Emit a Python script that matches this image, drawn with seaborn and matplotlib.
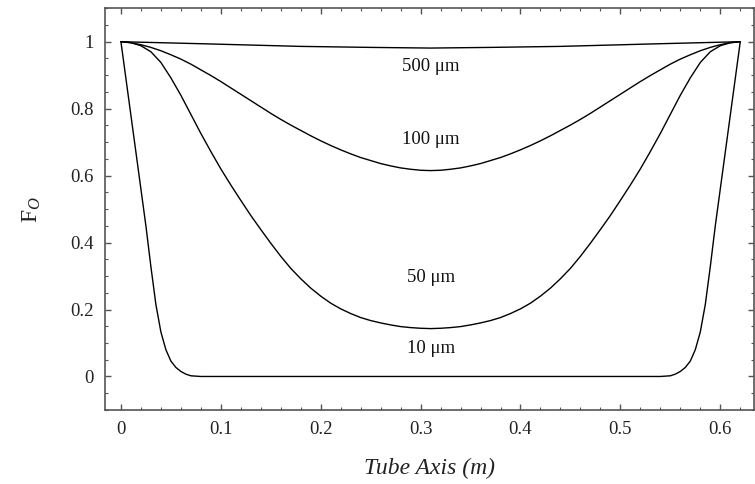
import matplotlib
matplotlib.use("Agg")
import matplotlib.pyplot as plt
import seaborn as sns
from matplotlib.ticker import MultipleLocator

# Data (oxygen fraction along tube axis)
x_10 = [0.000, 0.005, 0.010, 0.015, 0.020, 0.025, 0.030, 0.035, 0.040, 0.045,
        0.050, 0.055, 0.060, 0.065, 0.070, 0.080, 0.310, 0.540, 0.550, 0.555,
        0.560, 0.565, 0.570, 0.575, 0.580, 0.585, 0.590, 0.595, 0.600, 0.605,
        0.610, 0.615, 0.620]
y_10 = [1.000, 0.890, 0.780, 0.670, 0.560, 0.450, 0.328, 0.215, 0.133, 0.080,
        0.046, 0.027, 0.015, 0.007, 0.002, 0.000, 0.000, 0.000, 0.002, 0.007,
        0.015, 0.027, 0.046, 0.080, 0.133, 0.215, 0.328, 0.450, 0.560, 0.670,
        0.780, 0.890, 1.000]

x_grid = [0.00, 0.01, 0.02, 0.03, 0.04, 0.05, 0.06, 0.07, 0.08, 0.09,
          0.10, 0.11, 0.12, 0.13, 0.14, 0.15, 0.16, 0.17, 0.18, 0.19,
          0.20, 0.21, 0.22, 0.23, 0.24, 0.25, 0.26, 0.27, 0.28, 0.29,
          0.30, 0.31, 0.32, 0.33, 0.34, 0.35, 0.36, 0.37, 0.38, 0.39,
          0.40, 0.41, 0.42, 0.43, 0.44, 0.45, 0.46, 0.47, 0.48, 0.49,
          0.50, 0.51, 0.52, 0.53, 0.54, 0.55, 0.56, 0.57, 0.58, 0.59,
          0.60, 0.61, 0.62]

y_50 = [1.000, 0.997, 0.988, 0.970, 0.938, 0.892, 0.840, 0.783, 0.726, 0.672,
        0.620, 0.572, 0.526, 0.481, 0.439, 0.398, 0.359, 0.323, 0.292, 0.264,
        0.240, 0.219, 0.202, 0.188, 0.176, 0.167, 0.160, 0.154, 0.149, 0.146,
        0.144, 0.143, 0.144, 0.146, 0.149, 0.154, 0.160, 0.167, 0.176, 0.188,
        0.202, 0.219, 0.240, 0.264, 0.292, 0.323, 0.359, 0.398, 0.439, 0.481,
        0.526, 0.572, 0.620, 0.672, 0.726, 0.783, 0.840, 0.892, 0.938, 0.970,
        0.988, 0.997, 1.000]

y_100 = [1.000, 0.997, 0.991, 0.983, 0.973, 0.961, 0.948, 0.933, 0.916, 0.899,
         0.881, 0.862, 0.843, 0.824, 0.805, 0.786, 0.768, 0.751, 0.735, 0.719,
         0.704, 0.690, 0.677, 0.665, 0.654, 0.645, 0.636, 0.629, 0.623, 0.619,
         0.616, 0.615, 0.616, 0.619, 0.623, 0.629, 0.636, 0.645, 0.654, 0.665,
         0.677, 0.690, 0.704, 0.719, 0.735, 0.751, 0.768, 0.786, 0.805, 0.824,
         0.843, 0.862, 0.881, 0.899, 0.916, 0.933, 0.948, 0.961, 0.973, 0.983,
         0.991, 0.997, 1.000]

x_500 = [0.000, 0.040, 0.080, 0.130, 0.180, 0.250, 0.310, 0.370, 0.440, 0.490,
         0.540, 0.580, 0.620]
y_500 = [1.000, 0.997, 0.994, 0.990, 0.986, 0.983, 0.981, 0.983, 0.986, 0.990,
         0.994, 0.997, 1.000]

curves = [(x_10, y_10), (x_grid, y_50), (x_grid, y_100), (x_500, y_500)]

label_texts = ["500 \u03bcm", "100 \u03bcm", "50 \u03bcm", "10 \u03bcm"]
label_y = [0.925, 0.708, 0.297, 0.084]
label_x = 0.31

sns.set_theme(style="ticks")
plt.rcParams['font.family'] = ['Liberation Serif', 'DejaVu Serif']
plt.rcParams['mathtext.fontset'] = 'custom'
plt.rcParams['mathtext.rm'] = 'Liberation Serif'
plt.rcParams['mathtext.it'] = 'Liberation Serif:italic'

fig = plt.figure(figsize=(7.55, 4.84), dpi=100)
ax = fig.add_axes([0.139, 0.153, 0.860, 0.830])

for xs, ys in curves:
    sns.lineplot(x=xs, y=ys, ax=ax, color="black", linewidth=1.0,
                 sort=False, estimator=None)

for txt, ty in zip(label_texts, label_y):
    ax.text(label_x, ty, txt, ha="center", va="center", fontsize=13.5,
            color="#111111")

ax.set_xlim(-0.016, 0.634)
ax.set_ylim(-0.1, 1.1)
ax.xaxis.set_major_locator(MultipleLocator(0.1))
ax.xaxis.set_minor_locator(MultipleLocator(0.02))
ax.yaxis.set_major_locator(MultipleLocator(0.2))
ax.yaxis.set_minor_locator(MultipleLocator(0.05))
ax.xaxis.set_major_formatter(plt.FuncFormatter(lambda v, p: "0" if abs(v) < 1e-9 else f"{v:.1f}"))
ax.yaxis.set_major_formatter(plt.FuncFormatter(lambda v, p: "0" if abs(v) < 1e-9 else ("1" if abs(v - 1) < 1e-9 else f"{v:.1f}")))

frame_col = "#555555"
for s in ax.spines.values():
    s.set_color(frame_col)
    s.set_linewidth(1.2)
ax.tick_params(which="both", direction="in", top=True, right=True,
               color=frame_col, labelsize=13.5, labelcolor="#222222")
ax.tick_params(which="major", length=4.5, width=1.0, pad=8)
ax.tick_params(which="minor", length=2.5, width=0.8)

ax.set_xlabel("Tube Axis (m)", fontsize=17, style="italic", labelpad=14,
              color="#222222")
ax.set_ylabel(r"F$_{\mathit{O}}$", fontsize=17, labelpad=20, color="#222222")

fig.savefig("out.png", dpi=100)
